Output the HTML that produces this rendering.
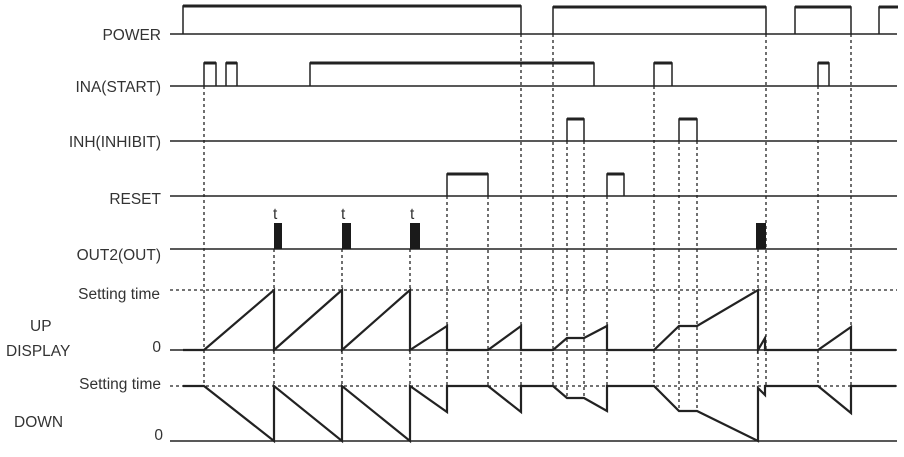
<!DOCTYPE html>
<html><head><meta charset="utf-8"><style>
html,body{margin:0;padding:0;background:#fff;}
svg{display:block;}
text{font-family:"Liberation Sans",sans-serif;font-size:15.5px;fill:#333;}
</style></head><body>
<svg width="904" height="457" viewBox="0 0 904 457" xmlns="http://www.w3.org/2000/svg">
<g stroke="#222" fill="none">
<!-- baselines -->
<g stroke-width="1.5">
<line x1="170" y1="34" x2="897" y2="34"/>
<line x1="170" y1="86" x2="897" y2="86"/>
<line x1="170" y1="141" x2="897" y2="141"/>
<line x1="170" y1="196" x2="897" y2="196"/>
<line x1="170" y1="249" x2="897" y2="249"/>
<line x1="170" y1="350" x2="897" y2="350"/>
<line x1="170" y1="441" x2="897" y2="441"/>
</g>
<!-- setting time dashed -->
<g stroke-width="1.3" stroke-dasharray="3,3">
<line x1="170" y1="290" x2="897" y2="290"/>
<line x1="170" y1="386" x2="897" y2="386"/>
</g>
<!-- vertical dashed -->
<g stroke-width="1.3" stroke-dasharray="3,3">
<line x1="204" y1="86" x2="204" y2="386"/>
<line x1="274" y1="249" x2="274" y2="386"/>
<line x1="342" y1="249" x2="342" y2="386"/>
<line x1="410" y1="249" x2="410" y2="386"/>
<line x1="447" y1="196" x2="447" y2="386"/>
<line x1="488" y1="196" x2="488" y2="386"/>
<line x1="521" y1="34" x2="521" y2="386"/>
<line x1="553" y1="34" x2="553" y2="386"/>
<line x1="567" y1="141" x2="567" y2="398"/>
<line x1="584" y1="141" x2="584" y2="398"/>
<line x1="607" y1="196" x2="607" y2="386"/>
<line x1="654" y1="86" x2="654" y2="386"/>
<line x1="679" y1="141" x2="679" y2="411"/>
<line x1="697" y1="141" x2="697" y2="411"/>
<line x1="766" y1="34" x2="766" y2="386"/>
<line x1="758" y1="249" x2="758" y2="386"/>
<line x1="818" y1="86" x2="818" y2="386"/>
<line x1="851" y1="34" x2="851" y2="386"/>
</g>
<!-- POWER -->
<g stroke-width="1.5">
<polyline points="183,34 183,6 521,6 521,34"/>
<polyline points="553,34 553,7 766,7 766,34"/>
<polyline points="795,34 795,7 851,7 851,34"/>
<polyline points="879,34 879,7 898,7"/>
</g>
<g stroke-width="3">
<line x1="183" y1="6" x2="521" y2="6"/>
<line x1="553" y1="7" x2="766" y2="7"/>
<line x1="795" y1="7" x2="851" y2="7"/>
<line x1="879" y1="7" x2="898" y2="7"/>
</g>
<!-- INA -->
<g stroke-width="1.5">
<polyline points="204,86 204,63 216,63 216,86"/>
<polyline points="226,86 226,63 237,63 237,86"/>
<polyline points="310,86 310,63 594,63 594,86"/>
<polyline points="654,86 654,63 672,63 672,86"/>
<polyline points="818,86 818,63 829,63 829,86"/>
<polyline points="567,141 567,119 584,119 584,141"/>
<polyline points="679,141 679,119 697,119 697,141"/>
<polyline points="447,196 447,174 488,174 488,196"/>
<polyline points="607,196 607,174 624,174 624,196"/>
</g>
<g stroke-width="3">
<line x1="204" y1="63" x2="216" y2="63"/>
<line x1="226" y1="63" x2="237" y2="63"/>
<line x1="310" y1="63" x2="594" y2="63"/>
<line x1="654" y1="63" x2="672" y2="63"/>
<line x1="818" y1="63" x2="829" y2="63"/>
<line x1="567" y1="119" x2="584" y2="119"/>
<line x1="679" y1="119" x2="697" y2="119"/>
<line x1="447" y1="174" x2="488" y2="174"/>
<line x1="607" y1="174" x2="624" y2="174"/>
</g>
<!-- UP -->
<polyline stroke-width="2.2" stroke-linejoin="miter" points="183,350 204,350 274,290 274,350 342,290 342,350 410,290 410,350 447,326 447,350 488,350 521,326 521,350 553,350 567,338 584,338 607,326 607,350 654,350 679,326 697,326 758,290 758,350 765,338 765,350 818,350 851,327 851,350 896,350"/>
<!-- DOWN -->
<polyline stroke-width="2.2" points="183,386 204,386 274,441 274,386 342,441 342,386 410,441 410,386 447,412 447,386 488,386 521,412 521,386 553,386 567,398 584,398 607,411 607,386 654,386 679,411 697,411 758,441 758,388 765,395 765,386 818,386 851,413 851,386 896,386"/>
</g>
<!-- OUT2 pulses -->
<g fill="#1a1a1a">
<rect x="274" y="223" width="8" height="26"/>
<rect x="342" y="223" width="9" height="26"/>
<rect x="410" y="223" width="10" height="26"/>
<rect x="756" y="223" width="10" height="26"/>
</g>
<text x="273" y="219">t</text>
<text x="341" y="219">t</text>
<text x="410" y="219">t</text>
<g text-anchor="end">
<text x="161" y="40">POWER</text>
<text x="161" y="92">INA(START)</text>
<text x="161" y="147">INH(INHIBIT)</text>
<text x="161" y="204">RESET</text>
<text x="161" y="260">OUT2(OUT)</text>
<text x="160" y="299">Setting time</text>
<text x="161" y="352">0</text>
<text x="161" y="389">Setting time</text>
<text x="163" y="440">0</text>
</g>
<text x="30" y="331">UP</text>
<text x="6" y="356">DISPLAY</text>
<text x="14" y="427">DOWN</text>
</svg>
</body></html>
